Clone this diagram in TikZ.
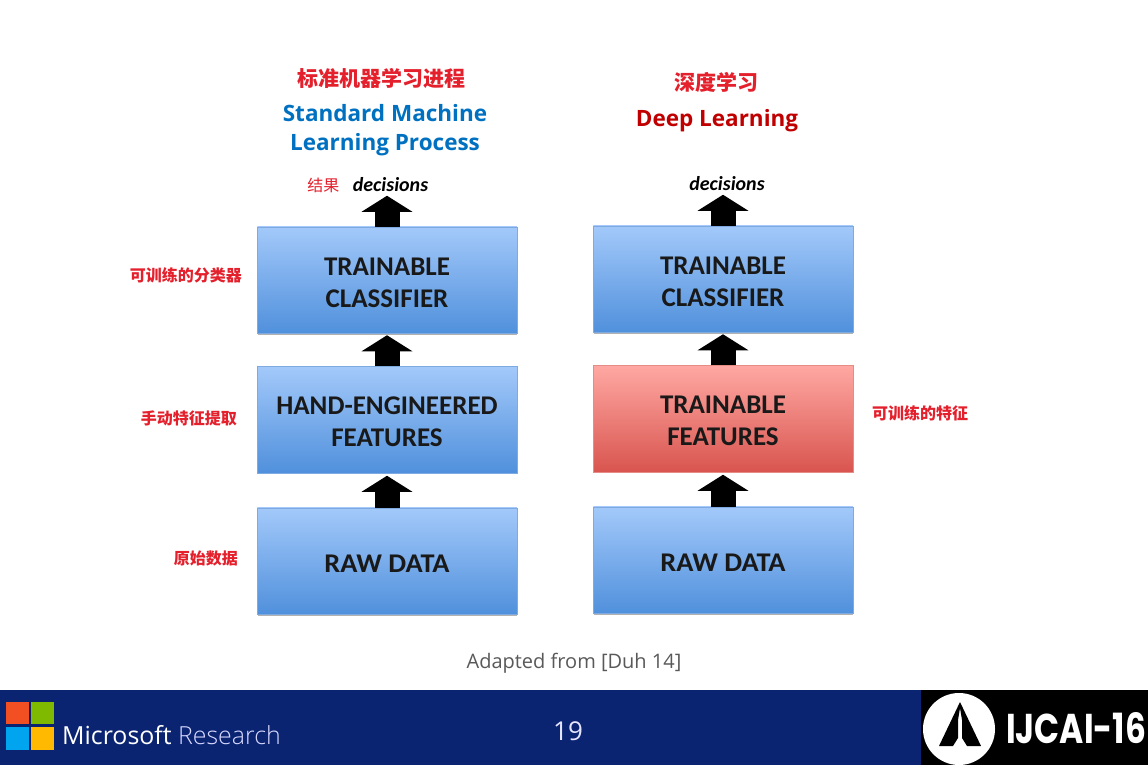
\documentclass[tikz,border=0pt]{standalone}
\usepackage{fontspec}
\usepackage{graphicx}
\setmainfont{Open Sans}
\newfontfamily\boxfont{Carlito}
\newfontfamily\cjkfont{Noto Sans CJK SC}
\newfontfamily\logofont{Poppins}
\usetikzlibrary{positioning,shadows,arrows.meta}
\definecolor{bandblue}{HTML}{0A2472}
\definecolor{labelred}{HTML}{E3202C}
\definecolor{titleblue}{HTML}{0070C0}
\definecolor{titlered}{HTML}{C00000}
\definecolor{msred}{HTML}{F25022}
\definecolor{msgreen}{HTML}{7FBA00}
\definecolor{msblue}{HTML}{00A4EF}
\definecolor{msyellow}{HTML}{FFB900}
\newcommand{\boxtext}[1]{\raisebox{-5pt}[\height][\depth]{\begin{tabular}{@{}c@{}}#1\end{tabular}}}
\tikzset{
  layerbox/.style={rectangle, minimum width=259.5pt, minimum height=106.5pt, inner sep=0pt, outer sep=0pt,
    font=\boxfont\fontsize{27}{32}\selectfont\bfseries, text=black!90, line width=.5pt,
    drop shadow={shadow xshift=0.5pt, shadow yshift=-1.5pt, opacity=.3, fill=black}},
  bluebox/.style={layerbox, draw={rgb,255:red,125;green,170;blue,225}, top color={rgb,255:red,163;green,201;blue,250}, bottom color={rgb,255:red,80;green,144;blue,220}},
  redbox/.style={layerbox, draw={rgb,255:red,230;green,140;blue,135}, top color={rgb,255:red,255;green,168;blue,163}, bottom color={rgb,255:red,217;green,85;blue,79}},
  bigarrow/.style={line width=25pt, draw=black, -{Triangle[length=16pt,width=50pt]}},
  cnlabel/.style={font=\cjkfont\fontsize{16}{16}\selectfont\bfseries, text=labelred, inner sep=0pt},
  cntitle/.style={font=\cjkfont\fontsize{21}{21}\selectfont\bfseries, text=labelred, inner sep=0pt},
  entitle/.style={font=\fontsize{22.5}{29}\selectfont\bfseries, align=center, inner sep=0pt},
  outtext/.style={font=\boxfont\fontsize{20}{20}\selectfont\bfseries\itshape, text=black, inner sep=0pt}
}
\begin{document}
\begin{tikzpicture}[x=1pt, y=-1pt]
  \useasboundingbox (0,0) rectangle (1148,765);

  \node[bluebox] (rawa) at (387,561) {\boxtext{\scalebox{1.05}[1]{RAW DATA}}};
  \node[bluebox, above=35pt of rawa] (feata) {\boxtext{HAND-ENGINEERED\\FEATURES}};
  \node[bluebox, above=33pt of feata] (clfa) {\boxtext{TRAINABLE\\CLASSIFIER}};

  \node[bluebox] (rawb) at (723,560) {\boxtext{\scalebox{1.05}[1]{RAW DATA}}};
  \node[redbox, above=35pt of rawb] (featb) {\boxtext{TRAINABLE\\FEATURES}};
  \node[bluebox, above=33pt of featb] (clfb) {\boxtext{TRAINABLE\\CLASSIFIER}};

  \coordinate[above=31pt of clfa] (tipa);
  \coordinate[above=31pt of clfb] (tipb);
  \coordinate[above=31pt of feata] (tipc);
  \coordinate[above=31pt of featb] (tipd);
  \coordinate[above=32pt of rawa] (tipe);
  \coordinate[above=32pt of rawb] (tipf);

  \draw[bigarrow] (clfa.north) -- (tipa);
  \draw[bigarrow] (clfb.north) -- (tipb);
  \draw[bigarrow] (feata.north) -- (tipc);
  \draw[bigarrow] (featb.north) -- (tipd);
  \draw[bigarrow] (rawa.north) -- (tipe);
  \draw[bigarrow] (rawb.north) -- (tipf);

  \node[outtext] (decia) at (390.5,185) {decisions};
  \node[outtext] (decib) at (727,184) {decisions};

  \node[cnlabel, left=13pt of decia] (resulta) {\mdseries 结果};
  \node[cnlabel, anchor=east] (trainclf) at (242,275) {可训练的分类器};
  \node[cnlabel, anchor=east] (handfeat) at (237,418) {手动特征提取};
  \node[cnlabel, anchor=east] (rawlabel) at (238,558) {原始数据};
  \node[cnlabel, anchor=west] (trainfeat) at (872,413) {可训练的特征};

  \node[entitle, text=titleblue] (stda) at (385,130) {Standard Machine\\Learning Process};
  \node[cntitle, above=15pt of stda, xshift=-3.5pt] (stdcn) {标准机器学习进程};
  \node[entitle, text=titlered] (deepa) at (717,121) {Deep Learning};
  \node[cntitle, above=17pt of deepa, xshift=-1pt] (deepcn) {深度学习};

  \node[font=\fontsize{20}{20}\selectfont, text=black!65, inner sep=0pt] (source) at (574,663) {Adapted from [Duh 14]};

  \fill[bandblue] (0,690) rectangle (1148,765);
  \fill[black] (921,690) rectangle (1148,765);

  \fill[msred] (6,702) rectangle (29,724);
  \fill[msgreen] (31,702) rectangle (54,724);
  \fill[msblue] (6,727) rectangle (29,750);
  \fill[msyellow] (31,727) rectangle (54,750);

  \node[font=\fontsize{24.9}{26}\selectfont, text=white, inner sep=0pt, anchor=base west] (mslogo) at (62,744.5) {Microsoft \textcolor{blue!15!white}{\fontspec{Open Sans Light}Research}};
  \node[font=\fontsize{26}{26}\selectfont, text=blue!10!white, inner sep=0pt] (pagenum) at (568,731) {19};

  \fill[white] (959,729) circle (36);
  \fill[black] (960,702) -- (981,746) -- (967,746) -- (962,738) -- (962,720) -- (960,708) -- (958,720) -- (958,738) -- (953,746) -- (939,746) -- cycle;
  \node[font=\logofont\bfseries, text=white, inner sep=0pt, anchor=base west] (ijcai) at (1006,743) {\resizebox{140pt}{31pt}{IJCAI-16}};
\end{tikzpicture}
\end{document}
